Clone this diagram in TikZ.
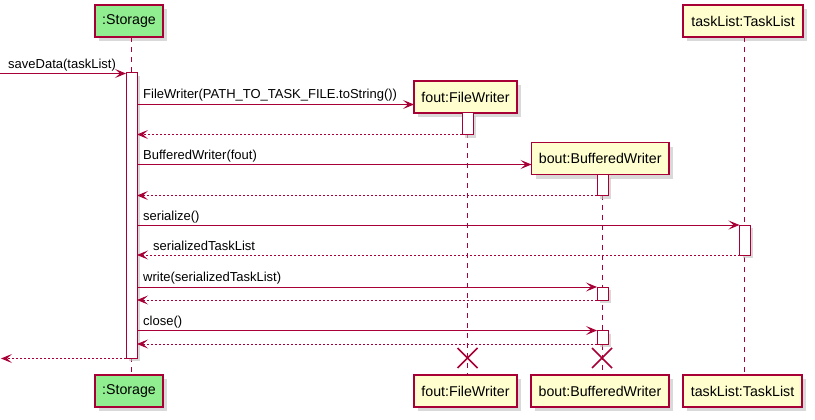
\documentclass[tikz,border=0pt]{standalone}
\usepackage{fontspec}
\setmainfont{Liberation Sans}
\usetikzlibrary{arrows.meta,calc}
\definecolor{umlred}{HTML}{A80036}
\definecolor{umlfill}{HTML}{FEFECE}
\definecolor{umlgreen}{HTML}{90EE90}
\begin{document}
\begin{tikzpicture}[x=1pt,y=-1pt,
  part/.style={draw=umlred,line width=1.2pt,fill=umlfill,inner sep=0pt,
    minimum height=32pt,font=\fontsize{14.2}{16}\selectfont},
  storagebox/.style={part,fill=umlgreen},
  shadowbox/.style={fill=black!25,draw=none,opacity=0.6},
  life/.style={umlred,line width=0.9pt,dash pattern=on 5pt off 5pt},
  actbar/.style={draw=umlred,line width=1pt,fill=white},
  msg/.style={umlred,line width=1pt,-{Stealth[length=11pt,width=9pt,inset=5pt]}},
  ret/.style={msg,dash pattern=on 2pt off 2pt},
  lbl/.style={font=\fontsize{13}{15}\selectfont,text=black,inner sep=0pt,anchor=base west},
  destroy/.style={umlred,line width=1.5pt}
]
\useasboundingbox (0,0) rectangle (815,420);
% shadows
\foreach \a/\b/\c/\d in {95/5/163/37, 414/81/517/113, 531.5/142.5/669/174.5, 683/5/803/37,
   95/375/163/407, 414/375/517/407, 531/375/669/407, 683/375/802/407}{
  \fill[shadowbox] (\a+4,\b+4) rectangle (\c+4,\d+4);
}
% lifelines
\coordinate (sl0) at (131.5,37); \coordinate (sl1) at (131.5,375);
\coordinate (fl0) at (467.5,113); \coordinate (fl1) at (467.5,375);
\coordinate (bl0) at (602,174.5); \coordinate (bl1) at (602,375);
\coordinate (tl0) at (744.5,37); \coordinate (tl1) at (744.5,375);
\draw[life] (sl0) -- (sl1);
\draw[life] (fl0) -- (fl1);
\draw[life] (bl0) -- (bl1);
\draw[life] (tl0) -- (tl1);
% participants
\node[storagebox,minimum width=68pt] (sTop) at (129,21) {:Storage};
\node[part,minimum width=103pt] (fTop) at (465.5,97) {fout:FileWriter};
\node[part,minimum width=137.5pt] (bTop) at (600.25,158.5) {bout:BufferedWriter};
\node[part,minimum width=120pt] (tTop) at (743,21) {taskList:TaskList};
\node[storagebox,minimum width=68pt] (sBot) at (129,391) {:Storage};
\node[part,minimum width=103pt] (fBot) at (465.5,391) {fout:FileWriter};
\node[part,minimum width=138pt] (bBot) at (600,391) {bout:BufferedWriter};
\node[part,minimum width=119pt] (tBot) at (742.5,391) {taskList:TaskList};
% activation bars (with shadows)
\foreach \a/\b/\c/\d in {126/73/137/358, 462/113/473/135, 597/174.5/608/195.5,
   739.5/225/750/255, 597/287/608/300, 597/330.5/608/344}{
  \fill[shadowbox] (\a+3,\b+3) rectangle (\c+3,\d+3);
  \draw[actbar] (\a,\b) rectangle (\c,\d);
}
\coordinate (in0) at (0,73.5);
\coordinate (sA) at (126,73.5);
\draw[msg] (in0) -- (sA);
\node[lbl] (l0) at (8,68.5) {saveData(taskList)};
% FileWriter
\coordinate (m1a) at (137,104.5); \coordinate (m1b) at (414,104.5);
\draw[msg] (m1a) -- (m1b);
\node[lbl] (l1) at (143,99) {FileWriter(PATH\_TO\_TASK\_FILE.toString())};
\coordinate (r1a) at (462,134.5); \coordinate (r1b) at (137,134.5);
\draw[ret] (r1a) -- (r1b);
% BufferedWriter
\coordinate (m2a) at (137,164.5); \coordinate (m2b) at (531.5,164.5);
\draw[msg] (m2a) -- (m2b);
\node[lbl] (l2) at (143,159) {BufferedWriter(fout)};
\coordinate (r2a) at (597,195.5); \coordinate (r2b) at (137,195.5);
\draw[ret] (r2a) -- (r2b);
% serialize
\coordinate (m3a) at (137,225); \coordinate (m3b) at (739.5,225);
\draw[msg] (m3a) -- (m3b);
\node[lbl] (l3) at (143,220) {serialize()};
\coordinate (r3a) at (739.5,255); \coordinate (r3b) at (137,255);
\draw[ret] (r3a) -- (r3b);
\node[lbl] (l3r) at (153,250) {serializedTaskList};
% write
\coordinate (m4a) at (137,287); \coordinate (m4b) at (597,287);
\draw[msg] (m4a) -- (m4b);
\node[lbl] (l4) at (143,281.5) {write(serializedTaskList)};
\coordinate (r4a) at (597,300) ; \coordinate (r4b) at (137,300);
\draw[ret] (r4a) -- (r4b);
% close
\coordinate (m5a) at (137,330.5); \coordinate (m5b) at (597,330.5);
\draw[msg] (m5a) -- (m5b);
\node[lbl] (l5) at (143,325) {close()};
\coordinate (r5a) at (597,344); \coordinate (r5b) at (137,344);
\draw[ret] (r5a) -- (r5b);
% final return
\coordinate (r6a) at (126,358.5); \coordinate (r6b) at (1,358.5);
\draw[ret] (r6a) -- (r6b);
% destroy marks
\foreach \x/\n in {467.5/fx, 602/bx}{
  \coordinate (\n) at (\x,358);
  \draw[destroy] ($(\n)+(-10,-10)$) -- ($(\n)+(10,10)$);
  \draw[destroy] ($(\n)+(-10,10)$) -- ($(\n)+(10,-10)$);
}
\end{tikzpicture}
\end{document}
